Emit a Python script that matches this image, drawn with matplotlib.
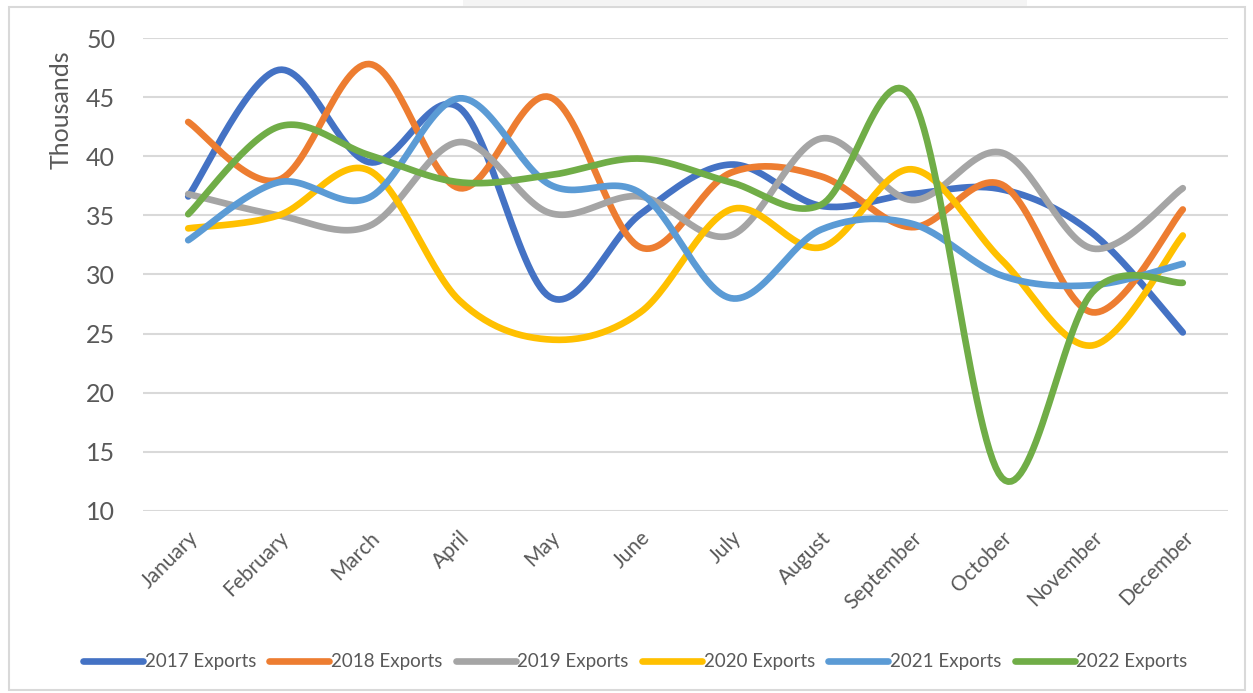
import numpy as np
import matplotlib.pyplot as plt
from matplotlib.patches import Rectangle

months = ['January', 'February', 'March', 'April', 'May', 'June', 'July',
          'August', 'September', 'October', 'November', 'December']

exports_2017 = [36.6, 47.3, 39.5, 44.1, 28.1, 35.1, 39.3, 35.8, 36.8, 37.2, 33.5, 25.1]
exports_2018 = [42.9, 38.0, 47.8, 37.3, 45.0, 32.3, 38.6, 38.3, 34.0, 37.6, 26.8, 35.5]
exports_2019 = [36.8, 35.0, 34.1, 41.2, 35.2, 36.6, 33.3, 41.5, 36.3, 40.3, 32.2, 37.3]
exports_2020 = [33.9, 35.0, 38.8, 27.8, 24.5, 26.8, 35.5, 32.3, 38.9, 31.2, 24.0, 33.3]
exports_2021 = [32.9, 37.8, 36.5, 44.9, 37.6, 36.9, 28.0, 33.8, 34.3, 29.9, 29.1, 30.9]
exports_2022 = [35.1, 42.5, 40.1, 37.8, 38.4, 39.8, 37.8, 35.9, 45.0, 12.8, 28.5, 29.3]

series = [('2017 Exports', exports_2017, '#4472C4'),
          ('2018 Exports', exports_2018, '#ED7D31'),
          ('2019 Exports', exports_2019, '#A5A5A5'),
          ('2020 Exports', exports_2020, '#FFC000'),
          ('2021 Exports', exports_2021, '#5B9BD5'),
          ('2022 Exports', exports_2022, '#70AD47')]


def smooth(y, steps=30):
    # cardinal spline through the points (bezier handles = neighbour slope / 6)
    y = np.asarray(y, dtype=float)
    x = np.arange(len(y), dtype=float)
    px = np.concatenate([[x[0]], x, [x[-1]]])
    py = np.concatenate([[y[0]], y, [y[-1]]])
    xs, ys = [], []
    t = np.linspace(0, 1, steps)
    for i in range(1, len(px) - 2):
        p0 = np.array([px[i], py[i]])
        p3 = np.array([px[i + 1], py[i + 1]])
        c1 = p0 + (p3 - np.array([px[i - 1], py[i - 1]])) / 6
        c2 = p3 - (np.array([px[i + 2], py[i + 2]]) - p0) / 6
        b = ((1 - t)[:, None] ** 3 * p0 + 3 * ((1 - t) ** 2 * t)[:, None] * c1
             + 3 * ((1 - t) * t ** 2)[:, None] * c2 + (t ** 3)[:, None] * p3)
        xs.extend(b[:, 0])
        ys.extend(b[:, 1])
    return np.array(xs), np.array(ys)


plt.rcParams['font.family'] = ['Lato', 'DejaVu Sans']
fig = plt.figure(figsize=(12.53, 6.93), dpi=100)
fig.patches.append(Rectangle((9 / 1253, 3 / 693), 1236 / 1253, 683 / 693,
                             transform=fig.transFigure, fill=False,
                             edgecolor='#d9d9d9', lw=1.5))
fig.patches.append(Rectangle((463 / 1253, 687 / 693), 564 / 1253, 6 / 693,
                             transform=fig.transFigure, facecolor='#f4f4f4',
                             edgecolor='none'))

ax = fig.add_axes([143 / 1253, 1 - 511 / 693, 1085 / 1253, 473 / 693])
for label, vals, color in series:
    sx, sy = smooth(vals)
    ax.plot(sx, sy, color=color, lw=4.8, solid_capstyle='round', label=label)

ax.set_xlim(-0.5, 11.5)
ax.set_ylim(10, 50)
ax.set_yticks(range(10, 51, 5))
ax.set_xticks(range(len(months)))
ax.set_xticklabels(months, rotation=45, ha='right', rotation_mode='anchor')
ax.grid(axis='y', color='#d9d9d9', lw=1.5)
ax.set_axisbelow(True)
for s in ax.spines.values():
    s.set_visible(False)
ax.tick_params(length=0, colors='#595959')
ax.tick_params(axis='y', labelsize=18, pad=20)
ax.tick_params(axis='x', labelsize=15, pad=12)
ax.set_ylabel('Thousands', fontsize=18, color='#595959')
ax.yaxis.set_label_coords(-0.065, 0.848)

fig.legend(loc='center', bbox_to_anchor=(0.507, 1 - 662 / 693), ncol=6,
           frameon=False, fontsize=13.5, labelcolor='#595959',
           handlelength=3.2, handletextpad=0.1, columnspacing=0.7)

fig.savefig('out.png', dpi=100)
